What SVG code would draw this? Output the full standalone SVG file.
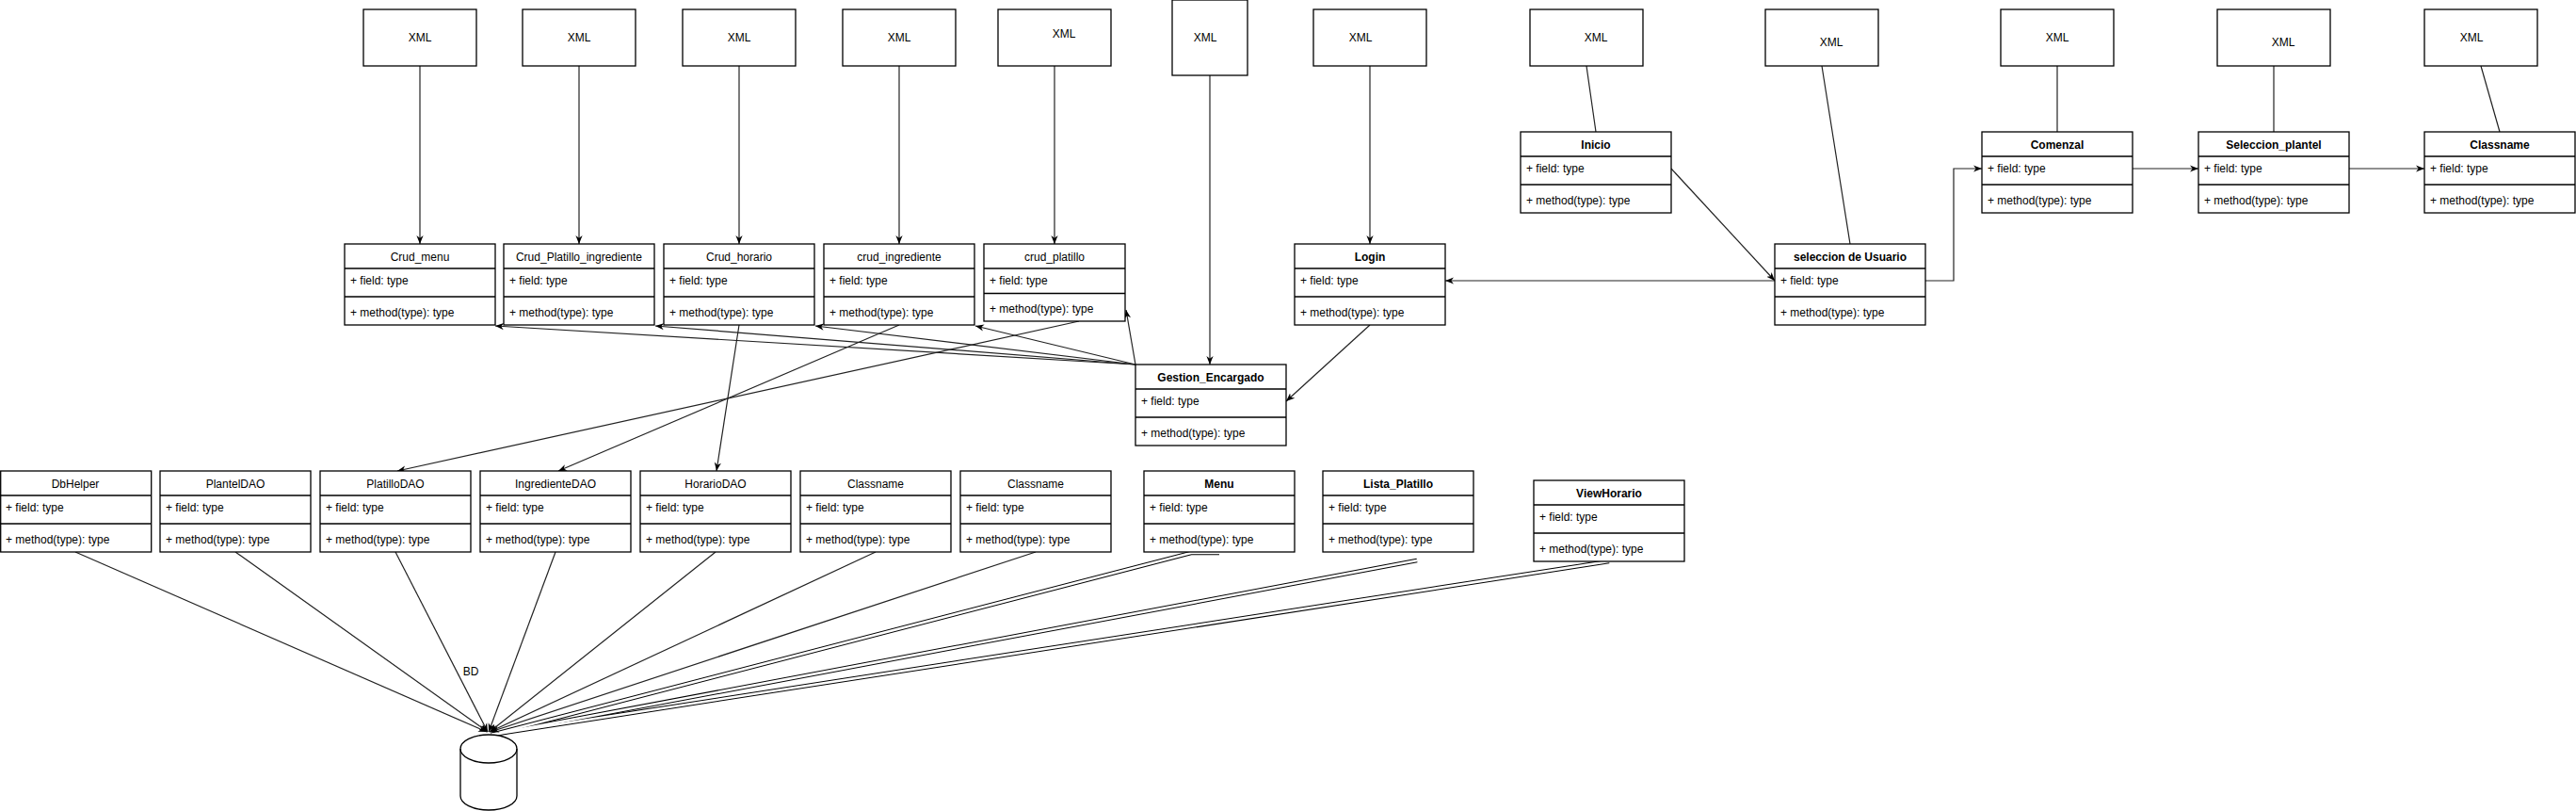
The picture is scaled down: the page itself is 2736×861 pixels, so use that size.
<svg xmlns="http://www.w3.org/2000/svg" width="2736" height="861" viewBox="0 0 2736 861">
<style>
.box{fill:#fff;stroke:#000;stroke-width:1.3}
.sep{stroke:#000;stroke-width:1.3}
.t{font-family:"Liberation Sans",Arial,sans-serif;font-size:12px;fill:#000}
.c{text-anchor:middle}
.b{font-weight:bold}
.e{fill:none;stroke:#222;stroke-width:1.2}
.a{marker-end:url(#arr)}
.lk{fill:none;stroke:#000;stroke-width:4.6}
.lkw{fill:none;stroke:#fff;stroke-width:2.6}
</style>
<defs>
<marker id="arr" viewBox="0 0 10 10" refX="10" refY="5" markerWidth="9" markerHeight="9" markerUnits="userSpaceOnUse" orient="auto">
<path d="M0,1 L10,5 L0,9 L3,5 z" fill="#000"/>
</marker>
</defs>
<rect width="2736" height="861" fill="#fff"/>

<g id="connectors">
<!-- double links to BD -->
<path class="lk" d="M1295,587 H1265 L522,780"/>
<path class="lk" d="M1505,595 L522,780"/>
<path class="lk" d="M1709,596 L522,780"/>
<path class="lkw" d="M1295,587 H1265 L522,780"/>
<path class="lkw" d="M1505,595 L522,780"/>
<path class="lkw" d="M1709,596 L522,780"/>
<!-- XML to classes -->
<path class="e a" d="M446,70 V259"/>
<path class="e a" d="M615,70 V259"/>
<path class="e a" d="M785,70 V259"/>
<path class="e a" d="M955,70 V259"/>
<path class="e a" d="M1120,70 V259"/>
<path class="e a" d="M1285,80 V387"/>
<path class="e a" d="M1455,70 V259"/>
<path class="e" d="M1685,70 L1695,140"/>
<path class="e" d="M1935,70 L1965,259"/>
<path class="e" d="M2185,70 V140"/>
<path class="e" d="M2415,70 V140"/>
<path class="e" d="M2635,70 L2655,140"/>
<!-- navigation -->
<path class="e a" d="M1775,179 L1885,298"/>
<path class="e a" d="M1885,298 H1535"/>
<path class="e a" d="M2045,298 H2075 V179 H2105"/>
<path class="e a" d="M2265,179 H2335"/>
<path class="e a" d="M2495,179 H2575"/>
<path class="e a" d="M1455,345 L1366,426"/>
<!-- Gestion to cruds -->
<path class="e a" d="M1206,387 L526,346"/>
<path class="e a" d="M1206,387 L696,346"/>
<path class="e a" d="M1206,387 L866,346"/>
<path class="e a" d="M1206,387 L1036,346"/>
<path class="e a" d="M1206,387 L1196,329"/>
<!-- cruds to DAOs -->
<path class="e a" d="M785,345 L761,500"/>
<path class="e a" d="M955,345 L593,500"/>
<path class="e a" d="M1146,341 L422,500"/>
<!-- DAOs to BD -->
<path class="e a" d="M80,586 L517,777"/>
<path class="e a" d="M250,586 L518,777"/>
<path class="e a" d="M420,586 L518,777"/>
<path class="e a" d="M590,586 L519,777"/>
<path class="e a" d="M760,586 L520,777"/>
<path class="e a" d="M930,586 L520,777"/>
<path class="e a" d="M1100,586 L521,777"/>
<text class="t c" x="500" y="717">BD</text>
</g>

<!-- XML boxes -->
<g id="xml1"><rect class="box" x="386" y="10" width="120" height="60"/><text class="t c" x="446" y="44">XML</text></g>
<g id="xml2"><rect class="box" x="555" y="10" width="120" height="60"/><text class="t c" x="615" y="44">XML</text></g>
<g id="xml3"><rect class="box" x="725" y="10" width="120" height="60"/><text class="t c" x="785" y="44">XML</text></g>
<g id="xml4"><rect class="box" x="895" y="10" width="120" height="60"/><text class="t c" x="955" y="44">XML</text></g>
<g id="xml5"><rect class="box" x="1060" y="10" width="120" height="60"/><text class="t c" x="1130" y="40">XML</text></g>
<g id="xml6"><rect class="box" x="1245" y="0" width="80" height="80"/><text class="t c" x="1280" y="44">XML</text></g>
<g id="xml7"><rect class="box" x="1395" y="10" width="120" height="60"/><text class="t c" x="1445" y="44">XML</text></g>
<g id="xml8"><rect class="box" x="1625" y="10" width="120" height="60"/><text class="t c" x="1695" y="44">XML</text></g>
<g id="xml9"><rect class="box" x="1875" y="10" width="120" height="60"/><text class="t c" x="1945" y="49">XML</text></g>
<g id="xml10"><rect class="box" x="2125" y="10" width="120" height="60"/><text class="t c" x="2185" y="44">XML</text></g>
<g id="xml11"><rect class="box" x="2355" y="10" width="120" height="60"/><text class="t c" x="2425" y="49">XML</text></g>
<g id="xml12"><rect class="box" x="2575" y="10" width="120" height="60"/><text class="t c" x="2625" y="44">XML</text></g>

<!-- Crud row -->
<g id="crud_menu"><rect class="box" x="366" y="259" width="160" height="86"/><path class="sep" d="M366,285 H526 M366,315 H526"/><text class="t c" x="446" y="277">Crud_menu</text><text class="t" x="372" y="302">+ field: type</text><text class="t" x="372" y="336">+ method(type): type</text></g>
<g id="crud_platillo_ingrediente"><rect class="box" x="535" y="259" width="160" height="86"/><path class="sep" d="M535,285 H695 M535,315 H695"/><text class="t c" x="615" y="277">Crud_Platillo_ingrediente</text><text class="t" x="541" y="302">+ field: type</text><text class="t" x="541" y="336">+ method(type): type</text></g>
<g id="crud_horario"><rect class="box" x="705" y="259" width="160" height="86"/><path class="sep" d="M705,285 H865 M705,315 H865"/><text class="t c" x="785" y="277">Crud_horario</text><text class="t" x="711" y="302">+ field: type</text><text class="t" x="711" y="336">+ method(type): type</text></g>
<g id="crud_ingrediente"><rect class="box" x="875" y="259" width="160" height="86"/><path class="sep" d="M875,285 H1035 M875,315 H1035"/><text class="t c" x="955" y="277">crud_ingrediente</text><text class="t" x="881" y="302">+ field: type</text><text class="t" x="881" y="336">+ method(type): type</text></g>
<g id="crud_platillo"><rect class="box" x="1045" y="259" width="150" height="82"/><path class="sep" d="M1045,285 H1195 M1045,311.5 H1195"/><text class="t c" x="1120" y="277">crud_platillo</text><text class="t" x="1051" y="302">+ field: type</text><text class="t" x="1051" y="332">+ method(type): type</text></g>
<g id="login"><rect class="box" x="1375" y="259" width="160" height="86"/><path class="sep" d="M1375,285 H1535 M1375,315 H1535"/><text class="t c b" x="1455" y="277">Login</text><text class="t" x="1381" y="302">+ field: type</text><text class="t" x="1381" y="336">+ method(type): type</text></g>
<g id="seleccion_usuario"><rect class="box" x="1885" y="259" width="160" height="86"/><path class="sep" d="M1885,285 H2045 M1885,315 H2045"/><text class="t c b" x="1965" y="277">seleccion de Usuario</text><text class="t" x="1891" y="302">+ field: type</text><text class="t" x="1891" y="336">+ method(type): type</text></g>

<!-- Top row -->
<g id="inicio"><rect class="box" x="1615" y="140" width="160" height="86"/><path class="sep" d="M1615,166 H1775 M1615,196 H1775"/><text class="t c b" x="1695" y="158">Inicio</text><text class="t" x="1621" y="183">+ field: type</text><text class="t" x="1621" y="217">+ method(type): type</text></g>
<g id="comenzal"><rect class="box" x="2105" y="140" width="160" height="86"/><path class="sep" d="M2105,166 H2265 M2105,196 H2265"/><text class="t c b" x="2185" y="158">Comenzal</text><text class="t" x="2111" y="183">+ field: type</text><text class="t" x="2111" y="217">+ method(type): type</text></g>
<g id="seleccion_plantel"><rect class="box" x="2335" y="140" width="160" height="86"/><path class="sep" d="M2335,166 H2495 M2335,196 H2495"/><text class="t c b" x="2415" y="158">Seleccion_plantel</text><text class="t" x="2341" y="183">+ field: type</text><text class="t" x="2341" y="217">+ method(type): type</text></g>
<g id="classname_top"><rect class="box" x="2575" y="140" width="160" height="86"/><path class="sep" d="M2575,166 H2735 M2575,196 H2735"/><text class="t c b" x="2655" y="158">Classname</text><text class="t" x="2581" y="183">+ field: type</text><text class="t" x="2581" y="217">+ method(type): type</text></g>

<!-- Gestion -->
<g id="gestion_encargado"><rect class="box" x="1206" y="387" width="160" height="86"/><path class="sep" d="M1206,413 H1366 M1206,443 H1366"/><text class="t c b" x="1286" y="405">Gestion_Encargado</text><text class="t" x="1212" y="430">+ field: type</text><text class="t" x="1212" y="464">+ method(type): type</text></g>

<!-- Bottom row -->
<g id="dbhelper"><rect class="box" x="0.7" y="500" width="160" height="86"/><path class="sep" d="M0,526 H160 M0,556 H160"/><text class="t c" x="80" y="518">DbHelper</text><text class="t" x="6" y="543">+ field: type</text><text class="t" x="6" y="577">+ method(type): type</text></g>
<g id="planteldao"><rect class="box" x="170" y="500" width="160" height="86"/><path class="sep" d="M170,526 H330 M170,556 H330"/><text class="t c" x="250" y="518">PlantelDAO</text><text class="t" x="176" y="543">+ field: type</text><text class="t" x="176" y="577">+ method(type): type</text></g>
<g id="platillodao"><rect class="box" x="340" y="500" width="160" height="86"/><path class="sep" d="M340,526 H500 M340,556 H500"/><text class="t c" x="420" y="518">PlatilloDAO</text><text class="t" x="346" y="543">+ field: type</text><text class="t" x="346" y="577">+ method(type): type</text></g>
<g id="ingredientedao"><rect class="box" x="510" y="500" width="160" height="86"/><path class="sep" d="M510,526 H670 M510,556 H670"/><text class="t c" x="590" y="518">IngredienteDAO</text><text class="t" x="516" y="543">+ field: type</text><text class="t" x="516" y="577">+ method(type): type</text></g>
<g id="horariodao"><rect class="box" x="680" y="500" width="160" height="86"/><path class="sep" d="M680,526 H840 M680,556 H840"/><text class="t c" x="760" y="518">HorarioDAO</text><text class="t" x="686" y="543">+ field: type</text><text class="t" x="686" y="577">+ method(type): type</text></g>
<g id="classname_b1"><rect class="box" x="850" y="500" width="160" height="86"/><path class="sep" d="M850,526 H1010 M850,556 H1010"/><text class="t c" x="930" y="518">Classname</text><text class="t" x="856" y="543">+ field: type</text><text class="t" x="856" y="577">+ method(type): type</text></g>
<g id="classname_b2"><rect class="box" x="1020" y="500" width="160" height="86"/><path class="sep" d="M1020,526 H1180 M1020,556 H1180"/><text class="t c" x="1100" y="518">Classname</text><text class="t" x="1026" y="543">+ field: type</text><text class="t" x="1026" y="577">+ method(type): type</text></g>
<g id="menu"><rect class="box" x="1215" y="500" width="160" height="86"/><path class="sep" d="M1215,526 H1375 M1215,556 H1375"/><text class="t c b" x="1295" y="518">Menu</text><text class="t" x="1221" y="543">+ field: type</text><text class="t" x="1221" y="577">+ method(type): type</text></g>
<g id="lista_platillo"><rect class="box" x="1405" y="500" width="160" height="86"/><path class="sep" d="M1405,526 H1565 M1405,556 H1565"/><text class="t c b" x="1485" y="518">Lista_Platillo</text><text class="t" x="1411" y="543">+ field: type</text><text class="t" x="1411" y="577">+ method(type): type</text></g>
<g id="viewhorario"><rect class="box" x="1629" y="510" width="160" height="86"/><path class="sep" d="M1629,536 H1789 M1629,566 H1789"/><text class="t c b" x="1709" y="528">ViewHorario</text><text class="t" x="1635" y="553">+ field: type</text><text class="t" x="1635" y="587">+ method(type): type</text></g>

<!-- BD cylinder -->
<g id="bd">
<path class="box" d="M489,795 A30,15 0 0 1 549,795 V845 A30,15 0 0 1 489,845 Z"/>
<path fill="none" stroke="#000" stroke-width="1.3" d="M489,795 A30,15 0 0 0 549,795"/>
</g>
</svg>
